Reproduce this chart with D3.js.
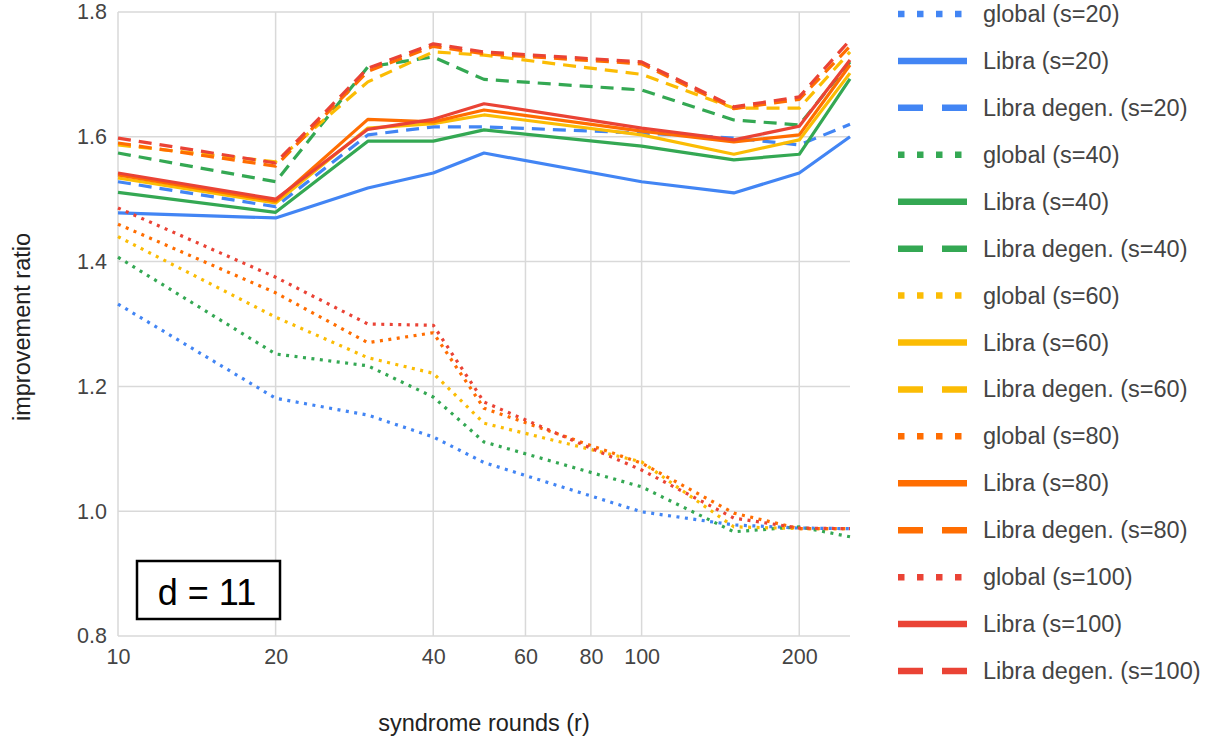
<!DOCTYPE html>
<html>
<head>
<meta charset="utf-8">
<script src="https://cdn.jsdelivr.net/npm/d3@7"></script>
<style>
  body { margin: 0; background: #fff; }
  text { font-family: "Liberation Sans", Arial, sans-serif; }
</style>
</head>
<body>
<div id="chart"></div>
<script>
// syndrome rounds (x values)
var rounds = [10, 20, 30, 40, 50, 100, 150, 200, 250];
var xTicks = [10, 20, 40, 60, 80, 100, 200];
var yTicks = [0.8, 1.0, 1.2, 1.4, 1.6, 1.8];

// improvement ratio per series
var globalS20  = [1.332, 1.181, 1.154, 1.119, 1.078, 0.999, 0.978, 0.973, 0.972];
var libraS20   = [1.478, 1.470, 1.518, 1.542, 1.574, 1.528, 1.510, 1.542, 1.600];
var degenS20   = [1.528, 1.488, 1.603, 1.616, 1.616, 1.606, 1.598, 1.587, 1.620];
var globalS40  = [1.407, 1.252, 1.233, 1.183, 1.111, 1.039, 0.967, 0.975, 0.959];
var libraS40   = [1.511, 1.479, 1.593, 1.593, 1.611, 1.585, 1.563, 1.572, 1.693];
var degenS40   = [1.574, 1.528, 1.712, 1.728, 1.692, 1.675, 1.627, 1.619, 1.720];
var globalS60  = [1.440, 1.311, 1.246, 1.221, 1.141, 1.079, 0.975, 0.972, 0.972];
var libraS60   = [1.534, 1.494, 1.614, 1.621, 1.635, 1.603, 1.572, 1.595, 1.702];
var degenS60   = [1.587, 1.560, 1.688, 1.736, 1.731, 1.700, 1.646, 1.646, 1.736];
var globalS80  = [1.460, 1.350, 1.270, 1.286, 1.165, 1.077, 0.997, 0.972, 0.972];
var libraS80   = [1.539, 1.497, 1.628, 1.624, 1.643, 1.609, 1.592, 1.603, 1.715];
var degenS80   = [1.590, 1.553, 1.705, 1.745, 1.733, 1.717, 1.645, 1.660, 1.745];
var globalS100 = [1.486, 1.375, 1.300, 1.298, 1.175, 1.066, 0.989, 0.973, 0.972];
var libraS100  = [1.542, 1.500, 1.612, 1.628, 1.653, 1.614, 1.595, 1.617, 1.723];
var degenS100  = [1.598, 1.558, 1.710, 1.749, 1.736, 1.720, 1.648, 1.664, 1.755];

var colors = {20: "#4285F4", 40: "#34A853", 60: "#FBBC04", 80: "#FF6D01", 100: "#EA4335"};

var series = [
  {name: "global (s=20)", s: 20, kind: "dot", values: globalS20},
  {name: "Libra (s=20)", s: 20, kind: "solid", values: libraS20},
  {name: "Libra degen. (s=20)", s: 20, kind: "dash", values: degenS20},
  {name: "global (s=40)", s: 40, kind: "dot", values: globalS40},
  {name: "Libra (s=40)", s: 40, kind: "solid", values: libraS40},
  {name: "Libra degen. (s=40)", s: 40, kind: "dash", values: degenS40},
  {name: "global (s=60)", s: 60, kind: "dot", values: globalS60},
  {name: "Libra (s=60)", s: 60, kind: "solid", values: libraS60},
  {name: "Libra degen. (s=60)", s: 60, kind: "dash", values: degenS60},
  {name: "global (s=80)", s: 80, kind: "dot", values: globalS80},
  {name: "Libra (s=80)", s: 80, kind: "solid", values: libraS80},
  {name: "Libra degen. (s=80)", s: 80, kind: "dash", values: degenS80},
  {name: "global (s=100)", s: 100, kind: "dot", values: globalS100},
  {name: "Libra (s=100)", s: 100, kind: "solid", values: libraS100},
  {name: "Libra degen. (s=100)", s: 100, kind: "dash", values: degenS100}
];

var w = 1214, h = 743;
var svg = d3.select("#chart").append("svg")
    .attr("width", w)
    .attr("height", h);

var x = d3.scaleLog().domain([10, 250]).range([118, 850]);
var y = d3.scaleLinear().domain([0.8, 1.8]).range([636, 12]);

// grid
svg.append("g").selectAll("line.h")
    .data(yTicks).enter().append("line")
    .attr("x1", x(10)).attr("x2", x(250))
    .attr("y1", function (d) { return y(d); })
    .attr("y2", function (d) { return y(d); })
    .attr("stroke", "#d9d9d9").attr("stroke-width", 1.5);

svg.append("g").selectAll("line.v")
    .data(xTicks).enter().append("line")
    .attr("x1", function (d) { return x(d); })
    .attr("x2", function (d) { return x(d); })
    .attr("y1", y(1.8)).attr("y2", y(0.8))
    .attr("stroke", "#d9d9d9").attr("stroke-width", 1.5);

// axes (labels only)
var yAxis = d3.axisLeft(y).tickValues(yTicks).tickSize(0).tickPadding(11)
    .tickFormat(d3.format(".1f"));
svg.append("g").attr("transform", "translate(" + x(10) + ",0)").call(yAxis)
    .call(function (g) { g.select(".domain").remove(); })
    .selectAll("text")
    .attr("font-size", 21.5).attr("fill", "#444")
    .attr("font-family", "Liberation Sans, Arial, sans-serif");

var xAxis = d3.axisBottom(x).tickValues(xTicks).tickSize(0).tickPadding(13)
    .tickFormat(d3.format("d"));
svg.append("g").attr("transform", "translate(0," + y(0.8) + ")").call(xAxis)
    .call(function (g) { g.select(".domain").remove(); })
    .selectAll("text")
    .attr("font-size", 21.5).attr("fill", "#444")
    .attr("font-family", "Liberation Sans, Arial, sans-serif");

// axis titles
svg.append("text")
    .attr("x", 484).attr("y", 731)
    .attr("text-anchor", "middle")
    .attr("font-size", 23.5).attr("fill", "#222")
    .text("syndrome rounds (r)");

svg.append("text")
    .attr("transform", "translate(30,327) rotate(-90)")
    .attr("text-anchor", "middle")
    .attr("font-size", 23.5).attr("fill", "#222")
    .text("improvement ratio");

// lines
var line = d3.line()
    .x(function (d) { return x(d.r); })
    .y(function (d) { return y(d.v); });

function plotDash(kind) {
  if (kind === "dot") return "3,5.5";
  if (kind === "dash") return "13,8";
  return null;
}

svg.append("g").selectAll("path")
    .data(series).enter().append("path")
    .attr("d", function (s) {
      return line(s.values.map(function (v, i) { return {r: rounds[i], v: v}; }));
    })
    .attr("fill", "none")
    .attr("stroke", function (s) { return colors[s.s]; })
    .attr("stroke-width", 3.2)
    .attr("stroke-linejoin", "round")
    .attr("stroke-dasharray", function (s) { return plotDash(s.kind); });

// d = 11 box
svg.append("rect")
    .attr("x", 137).attr("y", 561).attr("width", 143).attr("height", 58)
    .attr("fill", "#fff").attr("stroke", "#000").attr("stroke-width", 2.5);
svg.append("text")
    .attr("x", 207).attr("y", 605)
    .attr("text-anchor", "middle")
    .attr("font-size", 36).attr("fill", "#000")
    .text("d = 11");

// legend
var legend = svg.append("g").selectAll("g")
    .data(series).enter().append("g")
    .attr("transform", function (d, i) { return "translate(0," + (14 + i * 46.93) + ")"; });

legend.append("line")
    .attr("x1", 898).attr("x2", 967)
    .attr("y1", 0).attr("y2", 0)
    .attr("stroke", function (s) { return colors[s.s]; })
    .attr("stroke-width", 6.5)
    .attr("stroke-dasharray", function (s) {
      if (s.kind === "dot") return "6.5,12.5";
      if (s.kind === "dash") return "25,19";
      return null;
    });

legend.append("text")
    .attr("x", 983).attr("y", 8)
    .attr("font-size", 23.5).attr("fill", "#444")
    .text(function (s) { return s.name; });
</script>
</body>
</html>
